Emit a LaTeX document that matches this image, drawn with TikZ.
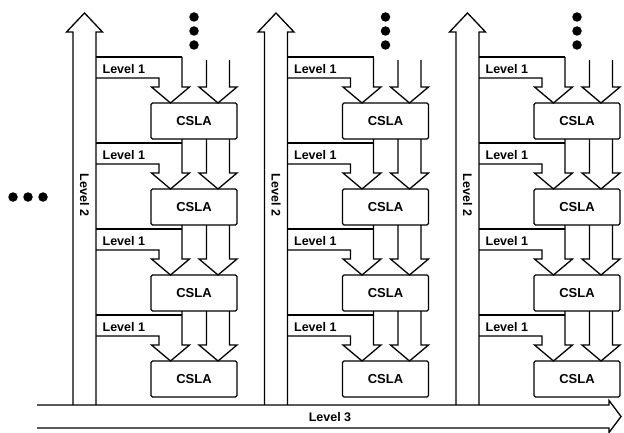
\documentclass[tikz,border=0pt]{standalone}
\usepackage{fontspec}
\setmainfont{Liberation Sans}
\begin{document}
\begin{tikzpicture}[x=1pt,y=-1pt, line width=1.3pt, line join=miter,
  box/.style={draw, rounded corners=1.5pt, minimum width=86pt, minimum height=36pt,
    font=\fontsize{13}{13}\selectfont\bfseries, inner sep=0pt},
  lab/.style={font=\fontsize{12.5}{12.5}\selectfont\bfseries, inner sep=0pt},
  bigdot/.style={fill, circle, inner sep=0pt, minimum size=9.5pt}]
\useasboundingbox (0,0) rectangle (624,433);
% Level 3 arrow
\draw (37,405) -- (609,405) -- (609,400.5) -- (621,416.5) -- (609,432.5) -- (609,428) -- (37,428);
\node[lab] (lthree) at (330,417) {Level 3};
% left dots
\node[bigdot] (ld1) at (13,197) {};
\node[bigdot] (ld2) at (28,197) {};
\node[bigdot] (ld3) at (43,197) {};
\foreach \c in {0,1,2}{
  \pgfmathsetmacro\Cx{191.5*\c}
  % Level 2 arrow
  \draw (\Cx+73,405) -- (\Cx+73,32) -- (\Cx+66.5,32) -- (\Cx+84.5,13) -- (\Cx+102.5,32) -- (\Cx+96,32) -- (\Cx+96,405);
  \node[lab, rotate=-90] (ltwo\c) at (\Cx+84.5,195) {Level 2};
  % top dots
  \node[bigdot] (td\c a) at (\Cx+194,17) {};
  \node[bigdot] (td\c b) at (\Cx+194,31) {};
  \node[bigdot] (td\c c) at (\Cx+194,45) {};
  \foreach \r in {0,1,2,3}{
    \pgfmathsetmacro\Ys{57+86*\r}
    \pgfmathsetmacro\Yb{78+86*\r}
    \pgfmathsetmacro\Yh{87+86*\r}
    \pgfmathsetmacro\Yt{103+86*\r}
    \pgfmathsetmacro\Yr{\r==0 ? 57 : 53+86*\r}
    \pgfmathsetmacro\Ya{\r==0 ? 60 : 53+86*\r}
    \pgfmathsetmacro\Ym{121+86*\r}
    \pgfmathsetmacro\Yl{69+86*\r}
    \node[box] (b\c\r) at (\Cx+194,\Ym) {CSLA};
    % Level 1 bent arrow
    \draw (\Cx+96,\Ys) -- (\Cx+182,\Ys);
    \draw (\Cx+182,\Yr) -- (\Cx+182,\Yh) -- (\Cx+189.5,\Yh) -- (\Cx+170.5,\Yt) -- (\Cx+151.5,\Yh) -- (\Cx+159,\Yh) -- (\Cx+159,\Yb) -- (\Cx+96,\Yb);
    \node[lab, anchor=west] (lone\c\r) at (\Cx+102,\Yl) {Level 1};
    % second arrow
    \draw (\Cx+206.5,\Ya) -- (\Cx+206.5,\Yh) -- (\Cx+199,\Yh) -- (\Cx+218,\Yt) -- (\Cx+237,\Yh) -- (\Cx+229.5,\Yh) -- (\Cx+229.5,\Ya);
  }
}
\end{tikzpicture}
\end{document}
